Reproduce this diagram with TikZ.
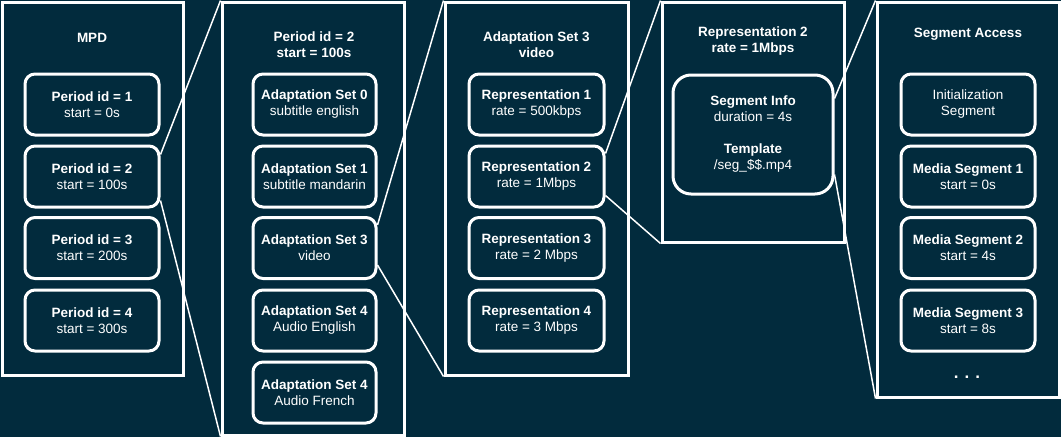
\documentclass[tikz,border=0pt]{standalone}
\usepackage{fontspec}
\setmainfont{Liberation Sans}
\definecolor{bgc}{HTML}{022B3D}
\begin{document}
\begin{tikzpicture}[x=1pt,y=-1pt,
  container/.style={draw=white,line width=3pt,fill=bgc,rectangle,inner sep=0pt},
  item/.style={draw=white,line width=3pt,rounded corners=10pt,fill=bgc,inner sep=0pt,
    minimum height=61pt,align=center,text=white,font=\fontsize{13.5}{16}\selectfont},
  title/.style={text=white,align=center,font=\fontsize{13.5}{16}\selectfont\bfseries},
  link/.style={draw=white,line width=1.5pt}]
\fill[bgc] (0,0) rectangle (1061,437);
\useasboundingbox (0,0) rectangle (1061,437);
% containers
\node[container,minimum width=181pt,minimum height=373pt] (c1) at (92.5,188.5) {};
\node[container,minimum width=182pt,minimum height=433pt] (c2) at (313,218.5) {};
\node[container,minimum width=183pt,minimum height=373pt] (c3) at (536.5,188.5) {};
\node[container,minimum width=182pt,minimum height=240pt] (c4) at (753,122) {};
\node[container,minimum width=182pt,minimum height=395pt] (c5) at (968,199.5) {};
% titles
\node[title] (t1) at (92,38) {MPD};
\node[title] (t2) at (314,45) {Period id = 2\\start = 100s};
\node[title] (t3) at (536.5,45) {Adaptation Set 3\\video};
\node[title] (t4) at (753,41) {Representation 2\\rate = 1Mbps};
\node[title] (t5) at (968,34) {Segment Access};
% column 1
\node[item,minimum width=134pt] (p1) at (92,104.5) {\textbf{Period id = 1}\\start = 0s};
\node[item,minimum width=134pt] (p2) at (92,176.5) {\textbf{Period id = 2}\\start = 100s};
\node[item,minimum width=134pt] (p3) at (92,248) {\textbf{Period id = 3}\\start = 200s};
\node[item,minimum width=134pt] (p4) at (92,320.5) {\textbf{Period id = 4}\\start = 300s};
% column 2
\node[item,minimum width=123pt] (a0) at (314.5,104.5) {\textbf{Adaptation Set 0}\\subtitle english};
\node[item,minimum width=123pt] (a1) at (314.5,176.5) {\textbf{Adaptation Set 1}\\subtitle mandarin};
\node[item,minimum width=123pt] (a3) at (314.5,248) {\textbf{Adaptation Set 3}\\video};
\node[item,minimum width=123pt] (a4) at (314.5,320.5) {\textbf{Adaptation Set 4}\\Audio English};
\node[item,minimum width=123pt] (a5) at (314.5,392.5) {\textbf{Adaptation Set 4}\\Audio French};
% column 3
\node[item,minimum width=135pt] (r1) at (536.5,104.5) {\textbf{Representation 1}\\rate = 500kbps};
\node[item,minimum width=135pt] (r2) at (536.5,176.5) {\textbf{Representation 2}\\rate = 1Mbps};
\node[item,minimum width=135pt] (r3) at (536.5,248) {\textbf{Representation 3}\\rate = 2 Mbps};
\node[item,minimum width=135pt] (r4) at (536.5,320.5) {\textbf{Representation 4}\\rate = 3 Mbps};
% column 4
\node[item,rounded corners=18pt,minimum width=160pt,minimum height=119pt] (si) at (753,134.5)
  {\textbf{Segment Info}\\duration = 4s\\[16pt]\textbf{Template}\\/seg\_\$\$.mp4};
% column 5
\node[item,minimum width=134pt] (s0) at (968,104.5) {Initialization\\Segment};
\node[item,minimum width=134pt] (s1) at (968,176.5) {\textbf{Media Segment 1}\\start = 0s};
\node[item,minimum width=134pt] (s2) at (968,248) {\textbf{Media Segment 2}\\start = 4s};
\node[item,minimum width=134pt] (s3) at (968,320.5) {\textbf{Media Segment 3}\\start = 8s};
\node[title,font=\fontsize{17}{17}\selectfont\bfseries] (dots) at (967,377) {.\hspace{6pt}.\hspace{6pt}.};
% connectors
\draw[link] ([yshift=-10pt]p2.north east) -- (c2.north west);
\draw[link] ([yshift=8pt]p2.south east) -- (c2.south west);
\draw[link] ([yshift=-9pt]a3.north east) -- (c3.north west);
\draw[link] ([yshift=15pt]a3.south east) -- (c3.south west);
\draw[link] ([yshift=-9pt]r2.north east) -- (c4.north west);
\draw[link] ([yshift=13pt]r2.south east) -- (c4.south west);
\draw[link] ([yshift=-25pt]si.north east) -- (c5.north west);
\draw[link] ([yshift=21pt]si.south east) -- (c5.south west);
\end{tikzpicture}
\end{document}
